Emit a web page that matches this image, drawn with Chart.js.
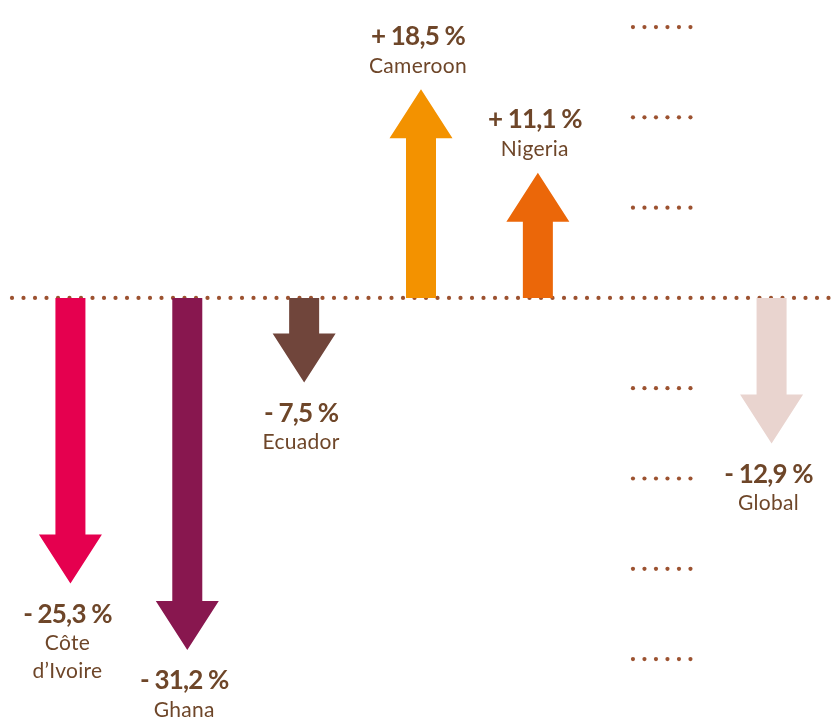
<!DOCTYPE html>
<html>
<head>
<meta charset="utf-8">
<script src="https://cdn.jsdelivr.net/npm/chart.js@4/dist/chart.umd.min.js"></script>
<style>
  html, body { margin: 0; padding: 0; background: #ffffff; }
  #wrap { width: 832px; height: 720px; position: relative; }
</style>
</head>
<body>
<div id="wrap"><canvas id="arrowChart"></canvas></div>
<script>
// Data (slot 5 is the empty gap holding the dotted stubs)
const categories = ['Côte d’Ivoire', 'Ghana', 'Ecuador', 'Cameroon', 'Nigeria', '', 'Global'];
const nameLines = [['Côte', 'd’Ivoire'], ['Ghana'], ['Ecuador'], ['Cameroon'], ['Nigeria'], [], ['Global']];
const changes = [-25.3, -31.2, -7.5, 18.5, 11.1, null, -12.9];
const arrowColors = ['#E5004F', '#88174F', '#70453B', '#F39200', '#EB6709', 'rgba(0,0,0,0)', '#E9D4CF'];
const gridTicks = [24, 16, 8, -8, -16, -24, -32];

const TEXT = '#6E4629';
const DOT = '#9C5230';
const FONT = 'Lato';

function fmt(v) {
    return (v > 0 ? '+ ' : '- ') + Math.abs(v).toFixed(1).replace('.', ',') + ' %';
}

function dotRow(c, x0, x1, y) {
    c.fillStyle = DOT;
    for (let x = x0; x <= x1 + 0.1; x += 11.5) {
        c.beginPath();
        c.arc(x, y, 2.1, 0, Math.PI * 2);
        c.fill();
    }
}

// draws the dotted zero line and the short dotted stubs for each tick
const dottedGrid = {
    id: 'dottedGrid',
    beforeDatasetsDraw(chart) {
        const c = chart.ctx, y = chart.scales.y, x = chart.scales.x;
        c.save();
        const cx = x.getPixelForValue(5) + 7;
        gridTicks.forEach(t => dotRow(c, cx - 28.75, cx + 28.75, y.getPixelForValue(t)));
        dotRow(c, 12, 830, y.getPixelForValue(0));
        c.restore();
    }
};

function setValueFont(c) {
    c.font = 'bold 26px ' + FONT;
    c.letterSpacing = '-0.8px';
}
function setNameFont(c) {
    c.font = '21px ' + FONT;
    c.letterSpacing = '0.3px';
}

// each bar is drawn as an arrow, with its value and country under/over the tip
const arrows = {
    id: 'arrows',
    beforeDatasetDraw() { return false; },
    afterDatasetsDraw(chart) {
        const c = chart.ctx;
        const meta = chart.getDatasetMeta(0);
        c.save();
        meta.data.forEach((bar, i) => {
            const v = changes[i];
            if (v === null) return;
            const dir = v > 0 ? -1 : 1;
            const tip = bar.y, base = bar.base, x = bar.x;
            const headH = 49, headW = 31.5, shaftW = 15;
            const neck = tip - dir * headH;
            c.fillStyle = arrowColors[i];
            c.beginPath();
            c.moveTo(x - shaftW, base);
            c.lineTo(x + shaftW, base);
            c.lineTo(x + shaftW, neck);
            c.lineTo(x + headW, neck);
            c.lineTo(x, tip);
            c.lineTo(x - headW, neck);
            c.lineTo(x - shaftW, neck);
            c.closePath();
            c.fill();

            c.fillStyle = TEXT;
            c.textAlign = 'center';
            c.textBaseline = 'middle';
            const lines = nameLines[i];
            if (dir > 0) {
                setValueFont(c);
                c.fillText(fmt(v), x - 3, tip + 31);
                setNameFont(c);
                lines.forEach((l, k) => c.fillText(l, x - 3, tip + 60 + k * 28));
            } else {
                setValueFont(c);
                c.fillText(fmt(v), x - 3, tip - 53);
                setNameFont(c);
                lines.forEach((l, k) => c.fillText(l, x - 3, tip - 23 + k * 28));
            }
        });
        c.restore();
    }
};

new Chart(document.getElementById('arrowChart'), {
    type: 'bar',
    data: {
        labels: categories,
        datasets: [{
            data: changes,
            backgroundColor: arrowColors,
            barThickness: 30
        }]
    },
    options: {
        responsive: true,
        maintainAspectRatio: false,
        animation: false,
        layout: { padding: { left: 12, right: 2, top: 0, bottom: 0 } },
        plugins: { legend: { display: false }, tooltip: { enabled: false } },
        scales: {
            x: { display: false },
            y: { display: false, min: -37.4, max: 26.4 }
        }
    },
    plugins: [dottedGrid, arrows]
});
</script>
</body>
</html>
